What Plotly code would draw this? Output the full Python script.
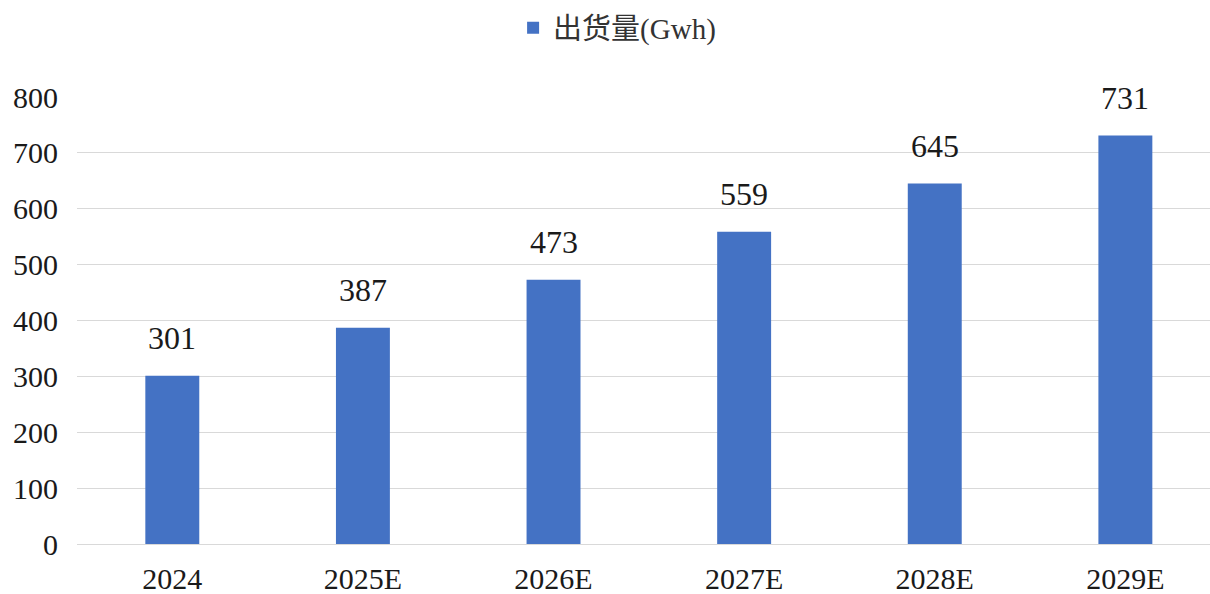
import plotly.graph_objects as go

categories = ["2024", "2025E", "2026E", "2027E", "2028E", "2029E"]
values = [301, 387, 473, 559, 645, 731]
series_name = "出货量(Gwh)"
y_ticks = [0, 100, 200, 300, 400, 500, 600, 700, 800]

BAR_COLOR = "#4472C4"
FONT = "Liberation Serif, Times New Roman, Noto Sans CJK SC, serif"
TEXT = "#1a1a1a"

fig = go.Figure()
fig.add_trace(go.Bar(
    x=categories, y=values, name=series_name,
    marker=dict(color=BAR_COLOR, line=dict(width=0)),
    width=0.283, showlegend=True,
))

for i, v in enumerate(values):
    fig.add_annotation(x=i, y=v, text=str(v), showarrow=False,
                       xref="x", yref="y",
                       yanchor="bottom", yshift=18,
                       font=dict(family=FONT, size=32, color=TEXT))

fig.update_layout(
    width=1210, height=594,
    margin=dict(l=77, r=0, t=97, b=50),
    paper_bgcolor="white", plot_bgcolor="white",
    font=dict(family=FONT, color=TEXT),
    legend=dict(orientation="h", x=0.51, xanchor="center", y=0.953, yanchor="middle",
                xref="container", yref="container",
                font=dict(family="Liberation Serif, Noto Sans CJK SC, serif", size=29, color="#333333")),
    xaxis=dict(type="category", range=[-0.5, 5.444], showgrid=False, showline=False, zeroline=False,
               tickfont=dict(family=FONT, size=30, color=TEXT),
               ticks="", ticklabelstandoff=14, automargin=False),
    yaxis=dict(range=[0, 800], tickvals=y_ticks, showgrid=True, gridcolor="#D9D9D9",
               gridwidth=1.2, zeroline=True, zerolinecolor="#D9D9D9", zerolinewidth=1.2,
               showline=False, ticks="", ticklabelstandoff=18,
               tickfont=dict(family=FONT, size=30, color=TEXT), automargin=False),
    bargap=0.7,
)

fig.write_html("out.html")
